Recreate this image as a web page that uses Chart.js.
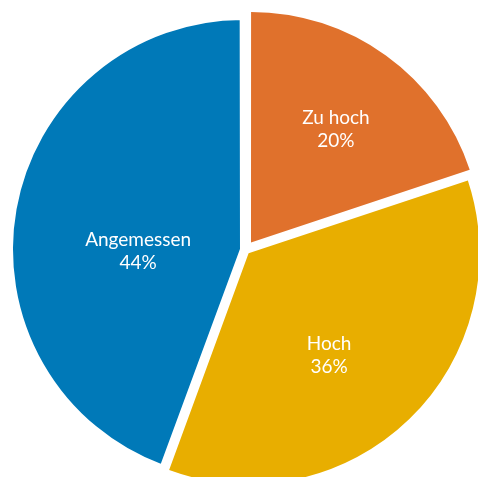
<!DOCTYPE html>
<html>
<head>
<meta charset="utf-8">
<script src="https://cdn.jsdelivr.net/npm/chart.js@4"></script>
<style>
  html, body { margin: 0; padding: 0; background: #fff; overflow: hidden; }
  #wrap { width: 478px; height: 477px; position: relative; }
</style>
</head>
<body>
<div id="wrap"><canvas id="myChart"></canvas></div>
<script>
const categories = ['Zu hoch', 'Hoch', 'Angemessen'];
const shares = [19.9, 35.7, 44.4];
const colors = ['#E0712C', '#E8AE00', '#0079B8'];

// explosion per slice (Chart.js moves a slice by offset / 4)
const sliceOffsets = [37.6, 17.8, 12.2];
// white outline only on the blue slice, trims it a little
const sliceBorders = [0, 0, 5];
// label placement: angle clockwise from top (deg), distance as share of radius
const labelAngle = [36.9, 141.7, 269.3];
const labelDist = [0.655, 0.586, 0.467];

const sliceLabels = {
  id: 'sliceLabels',
  afterDatasetsDraw(chart) {
    const ctx = chart.ctx;
    const meta = chart.getDatasetMeta(0);
    ctx.save();
    ctx.fillStyle = '#fff';
    ctx.font = '19px Lato';
    ctx.textAlign = 'center';
    ctx.textBaseline = 'middle';
    meta.data.forEach((arc, i) => {
      const a = labelAngle[i] * Math.PI / 180 - Math.PI / 2;
      const d = arc.outerRadius * labelDist[i];
      const x = arc.x + Math.cos(a) * d;
      const y = arc.y + Math.sin(a) * d;
      ctx.fillText(categories[i], x, y - 11.5);
      ctx.fillText(Math.round(shares[i]) + '%', x, y + 11.5);
    });
    ctx.restore();
  }
};

const ctx = document.getElementById('myChart');

new Chart(ctx, {
  type: 'pie',
  data: {
    labels: categories,
    datasets: [{
      data: shares,
      backgroundColor: colors,
      borderColor: '#ffffff',
      borderWidth: sliceBorders,
      borderAlign: 'center',
      offset: sliceOffsets,
      hoverOffset: 0,
      clip: false
    }]
  },
  options: {
    responsive: true,
    maintainAspectRatio: false,
    animation: false,
    radius: 230,
    layout: {
      padding: { left: 13, right: 0, top: 23, bottom: 0 }
    },
    plugins: {
      legend: { display: false },
      tooltip: { enabled: false }
    }
  },
  plugins: [sliceLabels]
});
</script>
</body>
</html>
